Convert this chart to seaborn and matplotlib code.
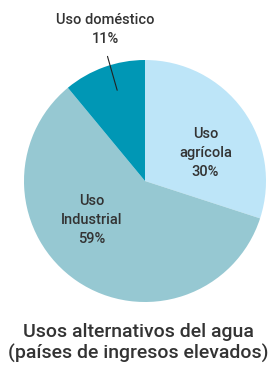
import matplotlib
matplotlib.use("Agg")
import matplotlib.pyplot as plt
import seaborn as sns
import numpy as np

# data
categories = ["Uso\nagrícola", "Uso\nIndustrial", "Uso doméstico"]
shares = [30, 59, 11]
colors = ["#BDE5F8", "#96C8D2", "#0097B5"]

sns.set_theme(style="white")
plt.rcParams["font.family"] = ["Roboto", "DejaVu Sans"]

fig = plt.figure(figsize=(2.76, 3.67), dpi=100)
ax = fig.add_axes([(145 - 121) / 276, (367 - 181 - 121) / 367, 242 / 276, 242 / 367])

wedges, _ = ax.pie(shares, colors=colors, startangle=90, counterclock=False,
                   wedgeprops=dict(linewidth=0))
ax.set_xlim(-1, 1)
ax.set_ylim(-1, 1)
ax.set_aspect("equal")

txt = "#333333"
lab = dict(ha="center", va="center", fontsize=10.5, color=txt,
           linespacing=1.45, fontweight="medium")
ax.text(0.5, 0.23, f"{categories[0]}\n{shares[0]}%", **lab)
ax.text(-0.44, -0.32, f"{categories[1]}\n{shares[1]}%", **lab)
ax.text(-0.33, 1.25, f"{categories[2]}\n{shares[2]}%", clip_on=False, **lab)
ax.plot([-0.31, -0.23], [1.03, 0.75], color="#222222", lw=0.8, clip_on=False)

fig.text(0.5, 24 / 367, "Usos alternativos del agua\n(países de ingresos elevados)",
         ha="center", va="center", fontsize=14, color=txt, linespacing=1.2,
         fontweight="medium")

fig.savefig("out.png", dpi=100)
